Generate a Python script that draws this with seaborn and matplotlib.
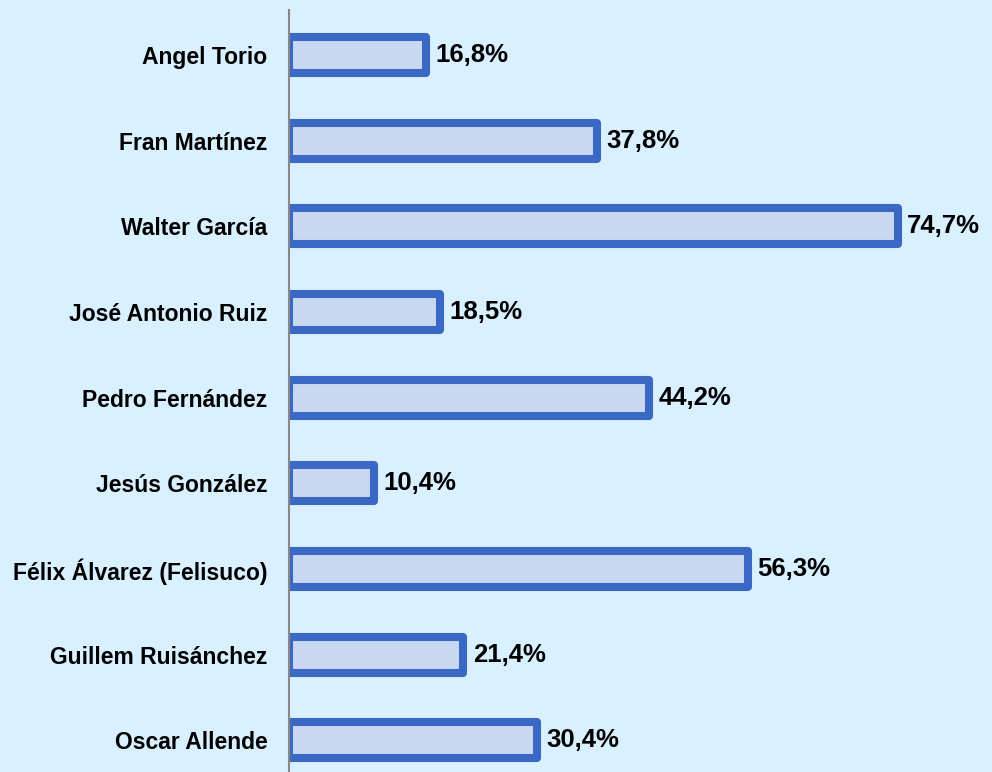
import matplotlib
matplotlib.use("Agg")
import matplotlib.pyplot as plt
import seaborn as sns
import pandas as pd

# data
names = ['Angel Torio', 'Fran Martínez', 'Walter García', 'José Antonio Ruiz',
         'Pedro Fernández', 'Jesús González', 'Félix Álvarez (Felisuco)',
         'Guillem Ruisánchez', 'Oscar Allende']
percent = [16.8, 37.8, 74.7, 18.5, 44.2, 10.4, 56.3, 21.4, 30.4]

df = pd.DataFrame({'name': names, 'pct': percent})

bg = '#D8F0FF'
sns.set_theme(style='white')
plt.rcParams['font.family'] = ['Liberation Sans', 'DejaVu Sans']

fig = plt.figure(figsize=(9.92, 7.72), dpi=100)
fig.patch.set_facecolor(bg)
ax = fig.add_axes([289 / 992, 0, 1 - 289 / 992, 762 / 772])
ax.set_facecolor(bg)

sns.barplot(data=df, x='pct', y='name', orient='h', ax=ax, width=0.42,
            color='#C8D8F0', saturation=1, edgecolor='#3A68C4', linewidth=5.8)

for p in ax.patches:
    p.set_joinstyle('round')

labels = [f"{v:.1f}".replace('.', ',') + '%' for v in percent]
ax.bar_label(ax.containers[0], labels=labels, padding=7,
             fontsize=18.5, fontweight='bold', color='black')

ax.set_xlim(0, 86.3)
ax.set_ylim(8.37, -0.525)
ax.set_xlabel('')
ax.set_ylabel('')
ax.set_xticks([])
ax.tick_params(axis='y', length=0, pad=15.5)
for lbl in ax.get_yticklabels():
    lbl.set_fontsize(16.5)
    lbl.set_fontweight('bold')
    lbl.set_color('black')

for s in ['top', 'right', 'bottom']:
    ax.spines[s].set_visible(False)
ax.spines['left'].set_color('#888888')
ax.spines['left'].set_linewidth(1.5)

fig.savefig('out.png', dpi=100, facecolor=bg)
